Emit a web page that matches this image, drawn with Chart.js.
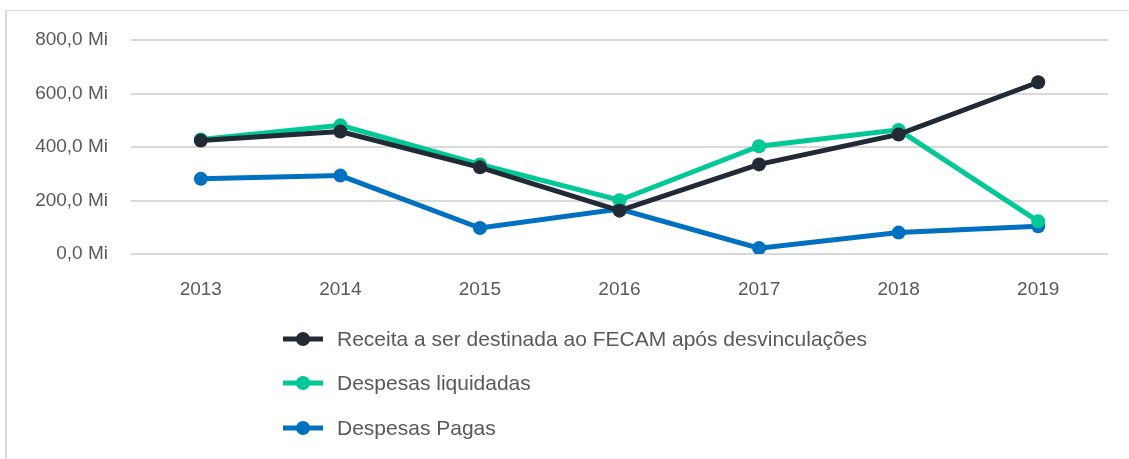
<!DOCTYPE html>
<html>
<head>
<meta charset="utf-8">
<script src="https://cdn.jsdelivr.net/npm/chart.js@4"></script>
<style>
  html, body { margin: 0; padding: 0; background: #fff; }
  #frame { position: absolute; left: 5px; top: 10px; width: 1200px; height: 500px;
           border-top: 1px solid #d9d9d9; border-left: 2px solid #d9d9d9; }
  #wrap { position: absolute; left: 0; top: 0; width: 1129px; height: 459px; }
</style>
</head>
<body>
<div id="frame"></div>
<div id="wrap"><canvas id="c" width="1129" height="459"></canvas></div>
<script>
const categories = ['2013', '2014', '2015', '2016', '2017', '2018', '2019'];
const seriesNames = ['Receita a ser destinada ao FECAM após desvinculações', 'Despesas liquidadas', 'Despesas Pagas'];
const receita = [424, 458, 324, 162, 335, 447, 642];
const liquidadas = [428, 481, 335, 201, 403, 464, 122];
const pagas = [281, 293, 97, 168, 22, 80, 104];
const yTicks = [0, 200, 400, 600, 800];

const colors = ['#222a35', '#00c896', '#0070c0'];
const FONT = "'Liberation Sans', Arial, sans-serif";
const TEXT = '#595959';

const legendPlugin = {
  id: 'vlegend',
  afterDraw(chart) {
    const ctx = chart.ctx;
    const x0 = 283, ys = [339, 383, 428];
    ctx.save();
    chart.data.datasets.forEach((ds, i) => {
      const y = ys[i];
      ctx.strokeStyle = ds.borderColor;
      ctx.lineWidth = 5;
      ctx.beginPath(); ctx.moveTo(x0, y); ctx.lineTo(x0 + 40, y); ctx.stroke();
      ctx.fillStyle = ds.borderColor;
      ctx.beginPath(); ctx.arc(x0 + 20, y, 7, 0, Math.PI * 2); ctx.fill();
      ctx.fillStyle = TEXT;
      ctx.font = '21px ' + FONT;
      ctx.textBaseline = 'middle';
      ctx.textAlign = 'left';
      ctx.fillText(ds.label, x0 + 54, y + 1);
    });
    ctx.restore();
  }
};

const mk = (i, data) => ({
  label: seriesNames[i], data,
  borderColor: colors[i], backgroundColor: colors[i],
  borderWidth: 5, pointRadius: 7, pointHoverRadius: 7,
  pointBorderWidth: 0, tension: 0
});

new Chart(document.getElementById('c'), {
  type: 'line',
  data: { labels: categories, datasets: [mk(0, receita), mk(1, liquidadas), mk(2, pagas)] },
  options: {
    responsive: false, animation: false,
    layout: { padding: { top: 40, right: 21, bottom: 145, left: 0 } },
    plugins: { legend: { display: false }, tooltip: { enabled: false } },
    scales: {
      x: {
        offset: true,
        grid: { display: false, drawTicks: false },
        border: { display: false },
        ticks: { color: TEXT, font: { family: FONT, size: 19 }, padding: 24 },
        afterFit(s) { s.height = 60; }
      },
      y: {
        min: 0, max: 800,
        afterBuildTicks(s) { s.ticks = yTicks.map(v => ({ value: v })); },
        grid: { color: '#d9d9d9', lineWidth: 2, drawTicks: false },
        border: { display: false },
        ticks: {
          color: TEXT, font: { family: FONT, size: 19 }, padding: 23,
          callback: v => v.toFixed(1).replace('.', ',') + ' Mi'
        },
        afterFit(s) { s.width = 131; }
      }
    }
  },
  plugins: [legendPlugin]
});
</script>
</body>
</html>
